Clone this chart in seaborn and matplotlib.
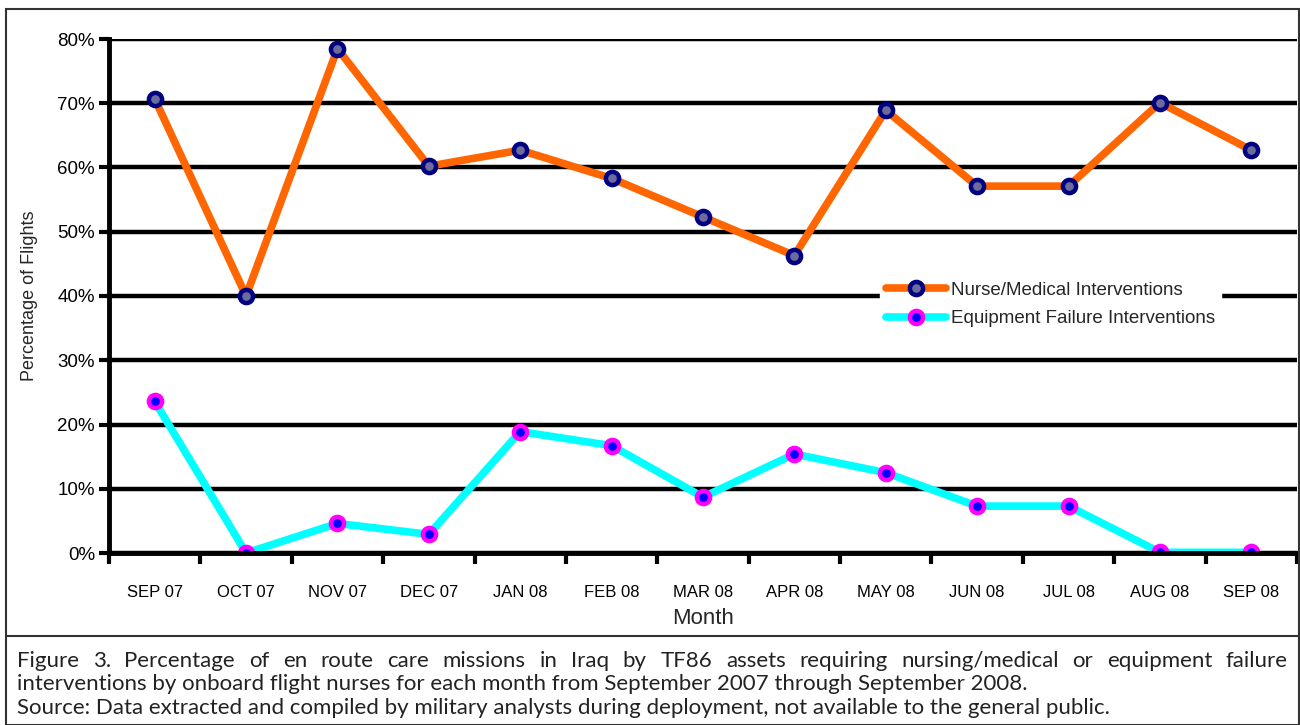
import matplotlib
matplotlib.use("Agg")
import matplotlib.pyplot as plt
import seaborn as sns
import pandas as pd
from matplotlib.patches import Rectangle
from matplotlib.lines import Line2D
from matplotlib.ticker import FuncFormatter

# Data (percent of flights)
months = ["SEP 07", "OCT 07", "NOV 07", "DEC 07", "JAN 08", "FEB 08", "MAR 08",
          "APR 08", "MAY 08", "JUN 08", "JUL 08", "AUG 08", "SEP 08"]
nurse_medical = [70.7, 40.0, 78.5, 60.2, 62.7, 58.3, 52.3, 46.3, 68.9, 57.1, 57.1, 70.1, 62.7]
equipment_failure = [23.6, 0.0, 4.6, 2.9, 18.9, 16.7, 8.7, 15.4, 12.5, 7.3, 7.3, 0.1, 0.1]
series_names = ["Nurse/Medical Interventions", "Equipment Failure Interventions"]

caption_lines = [
    "Figure 3. Percentage of en route care missions in Iraq by TF86 assets requiring nursing/medical or equipment failure",
    "interventions by onboard flight nurses for each month from September 2007 through September 2008.",
    "Source: Data extracted and compiled by military analysts during deployment, not available to the general public.",
]

sns.set_theme(style="white")
plt.rcParams['font.family'] = ['Liberation Sans', 'DejaVu Sans']

W, H = 1300, 725
fig = plt.figure(figsize=(13, 7.25), dpi=100)

# outer frame + caption separator
fig.patches.append(Rectangle((6 / W, 0), (1299 - 6) / W, (725 - 9) / H, transform=fig.transFigure,
                             fill=False, edgecolor="#333333", linewidth=1.5))
fig.lines.append(Line2D([6 / W, 1299 / W], [1 - 636 / H, 1 - 636 / H], transform=fig.transFigure,
                        color="#333333", linewidth=1.5))

ax = fig.add_axes([109 / W, 1 - 553 / H, (1297 - 109) / W, (553 - 39) / H])

df = pd.DataFrame({
    "Month": months * 2,
    "value": nurse_medical + equipment_failure,
    "series": [series_names[0]] * len(months) + [series_names[1]] * len(months),
})
x_pos = {m: i for i, m in enumerate(months)}
df["x"] = df["Month"].map(x_pos)

palette = {series_names[0]: "#ff6600", series_names[1]: "#00ffff"}
sns.lineplot(data=df, x="x", y="value", hue="series", palette=palette, ax=ax,
             linewidth=5.5, marker="o", sort=False, legend=False)

marker_styles = [("#6b6b9c", "#000080"), ("#0000ff", "#ff00ff")]
for line, (face, edge) in zip(ax.lines[:2], marker_styles):
    line.set_markersize(9.5)
    line.set_markerfacecolor(face)
    line.set_markeredgecolor(edge)
    line.set_markeredgewidth(3.2)
    line.set_solid_capstyle("butt")

ax.set_xlim(-0.5, len(months) - 0.5)
ax.set_ylim(0, 80)
ax.set_yticks(range(0, 81, 10))
ax.yaxis.set_major_formatter(FuncFormatter(lambda v, p: f"{int(v)}%"))
ax.grid(axis="y", color="black", linewidth=3.2)
ax.set_axisbelow(True)

ax.set_xticks(range(len(months)))
ax.set_xticklabels(months, fontsize=12)
ax.set_xticks([i - 0.5 for i in range(len(months) + 1)], minor=True)
ax.tick_params(bottom=True, left=True)
ax.tick_params(axis="x", which="major", length=0, pad=23)
ax.tick_params(axis="x", which="minor", bottom=True, length=8, width=3, color="black", direction="out")
ax.tick_params(axis="y", length=7, width=3, color="black", direction="out", labelsize=13.5, pad=3)
ax.tick_params(axis="both", colors="black")

for s in ["top", "right"]:
    ax.spines[s].set_visible(False)
for s in ["left", "bottom"]:
    ax.spines[s].set_color("black")
    ax.spines[s].set_linewidth(3.5)

ax.set_xlabel("Month", fontsize=16, labelpad=6)
ax.set_ylabel("Percentage of Flights", fontsize=13, labelpad=14)

handles = [Line2D([], [], color=l.get_color(), linewidth=5.5, marker="o", markersize=9.5,
                  markerfacecolor=l.get_markerfacecolor(), markeredgecolor=l.get_markeredgecolor(),
                  markeredgewidth=3.2) for l in ax.lines[:2]]
leg = ax.legend(handles, series_names, loc="upper left", bbox_to_anchor=(0.641, 0.557),
                frameon=True, fancybox=False, edgecolor="white", framealpha=1.0,
                fontsize=13.5, handlelength=3.2, handletextpad=0.3, labelspacing=0.6,
                borderpad=0.3)

# caption: first line justified between the frame edges
cap_kw = dict(fontsize=16, va="center", ha="left", family=["Lato", "DejaVu Sans"], color="#222222")
x0, x1 = 17, 1288
renderer = fig.canvas.get_renderer()
words = caption_lines[0].split(" ")
word_txt = [fig.text(0, 0, w, **cap_kw) for w in words]
widths = [t.get_window_extent(renderer).width for t in word_txt]
gap = (x1 - x0 - sum(widths)) / (len(words) - 1)
xc = x0
for t, w in zip(word_txt, widths):
    t.set_position((xc / W, 1 - 661 / H))
    xc += w + gap
for i, txt in enumerate(caption_lines[1:], start=1):
    fig.text(x0 / W, 1 - (661 + i * 23.5) / H, txt, **cap_kw)

fig.savefig("out.png", dpi=100)
